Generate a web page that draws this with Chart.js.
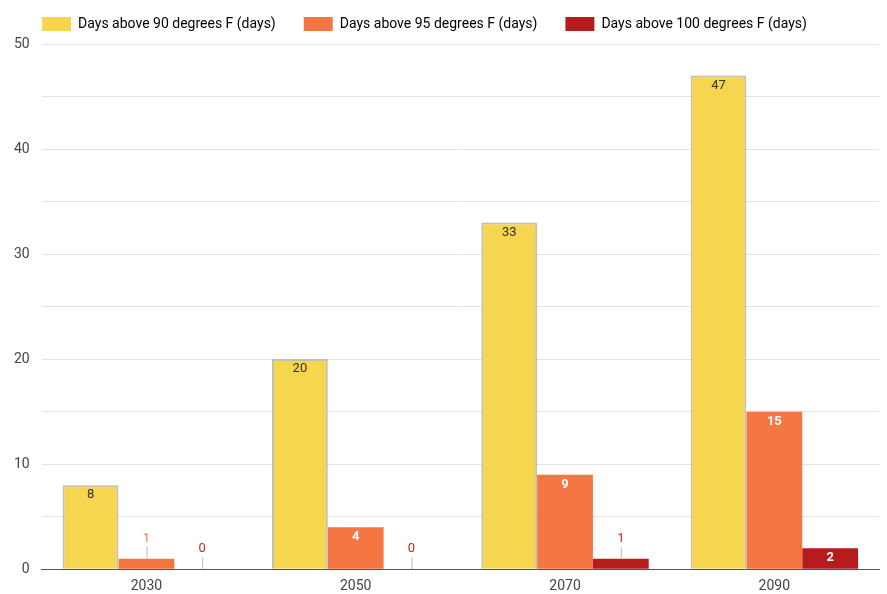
<!DOCTYPE html>
<html lang="en">
<head>
  <meta charset="UTF-8" />
  <title>Days above temperature thresholds</title>
  <script src="https://cdn.jsdelivr.net/npm/chart.js"></script>
  <style>
    html, body { margin: 0; padding: 0; background: #fff; }
    #wrap { width: 887px; height: 594px; }
  </style>
</head>
<body>
<div id="wrap"><canvas id="chart"></canvas></div>
<script>
  const years = ['2030', '2050', '2070', '2090'];
  const above90 = [8, 20, 33, 47];
  const above95 = [1, 4, 9, 15];
  const above100 = [0, 0, 1, 2];
  const seriesNames = ['Days above 90 degrees F (days)', 'Days above 95 degrees F (days)', 'Days above 100 degrees F (days)'];

  // value labels: inside the bar top when it fits, otherwise above with a little leader line
  const barLabels = {
    id: 'barLabels',
    afterDatasetsDraw(chart) {
      const ctx = chart.ctx;
      const inside = ['#333', '#fff', '#fff'];
      const outside = ['#333', '#F47642', '#C62828'];
      ctx.save();
      ctx.textAlign = 'center';
      ctx.textBaseline = 'middle';
      chart.data.datasets.forEach((ds, i) => {
        chart.getDatasetMeta(i).data.forEach((bar, j) => {
          const v = ds.data[j];
          const h = bar.base - bar.y;
          if (h >= 18) {
            ctx.font = (i === 0 ? '' : 'bold ') + '13px Roboto';
            ctx.fillStyle = inside[i];
            ctx.fillText(String(v), bar.x, bar.y + 10);
          } else {
            ctx.strokeStyle = '#bbb';
            ctx.lineWidth = 1;
            ctx.beginPath();
            ctx.moveTo(bar.x + 0.5, bar.y);
            ctx.lineTo(bar.x + 0.5, bar.y - 12);
            ctx.stroke();
            ctx.font = '13px Roboto';
            ctx.fillStyle = outside[i];
            ctx.fillText(String(v), bar.x, bar.y - 20);
          }
        });
      });
      ctx.restore();
    }
  };

  // nudge the legend row to where the original has it
  const shiftLegend = {
    id: 'shiftLegend',
    afterLayout(chart) {
      chart.legend.left -= 16;
      chart.legend.right -= 16;
      chart.legend.top -= 3;
      chart.legend.bottom -= 3;
    }
  };

  new Chart(document.getElementById('chart'), {
    type: 'bar',
    data: {
      labels: years,
      datasets: [
        { label: seriesNames[0], data: above90, backgroundColor: '#F6D54F', borderColor: '#C4BFA8', borderWidth: { top: 2, left: 2, right: 2, bottom: 0 }, borderSkipped: 'bottom' },
        { label: seriesNames[1], data: above95, backgroundColor: '#F47642', borderWidth: 0 },
        { label: seriesNames[2], data: above100, backgroundColor: '#B71C1C', borderWidth: 0 }
      ]
    },
    options: {
      responsive: true,
      maintainAspectRatio: false,
      animation: false,
      layout: { padding: { left: 2, right: 8, top: -8, bottom: -10 } },
      datasets: { bar: { categoryPercentage: 0.8, barPercentage: 1.0 } },
      plugins: {
        legend: {
          position: 'top',
          align: 'center',
          labels: {
            boxWidth: 29,
            boxHeight: 14,
            padding: 28,
            color: '#444',
            font: { family: 'Roboto', size: 14 },
            generateLabels(chart) {
              return chart.data.datasets.map((ds, i) => ({
                text: ds.label,
                fillStyle: ds.backgroundColor,
                strokeStyle: ds.backgroundColor,
                lineWidth: 0,
                datasetIndex: i
              }));
            }
          }
        },
        tooltip: { enabled: false }
      },
      scales: {
        x: {
          grid: { display: false, drawTicks: false },
          border: { color: '#555', width: 1 },
          ticks: { color: '#444', font: { family: 'Roboto', size: 14 }, padding: 9 }
        },
        y: {
          min: 0,
          max: 50,
          grid: { color: '#e3e3e3', drawTicks: false },
          border: { display: false },
          ticks: {
            stepSize: 5,
            padding: 12,
            color: '#444',
            font: { family: 'Roboto', size: 14 },
            callback: (v) => (v % 10 === 0 ? v : '')
          }
        }
      }
    },
    plugins: [barLabels, shiftLegend]
  });
</script>
</body>
</html>
